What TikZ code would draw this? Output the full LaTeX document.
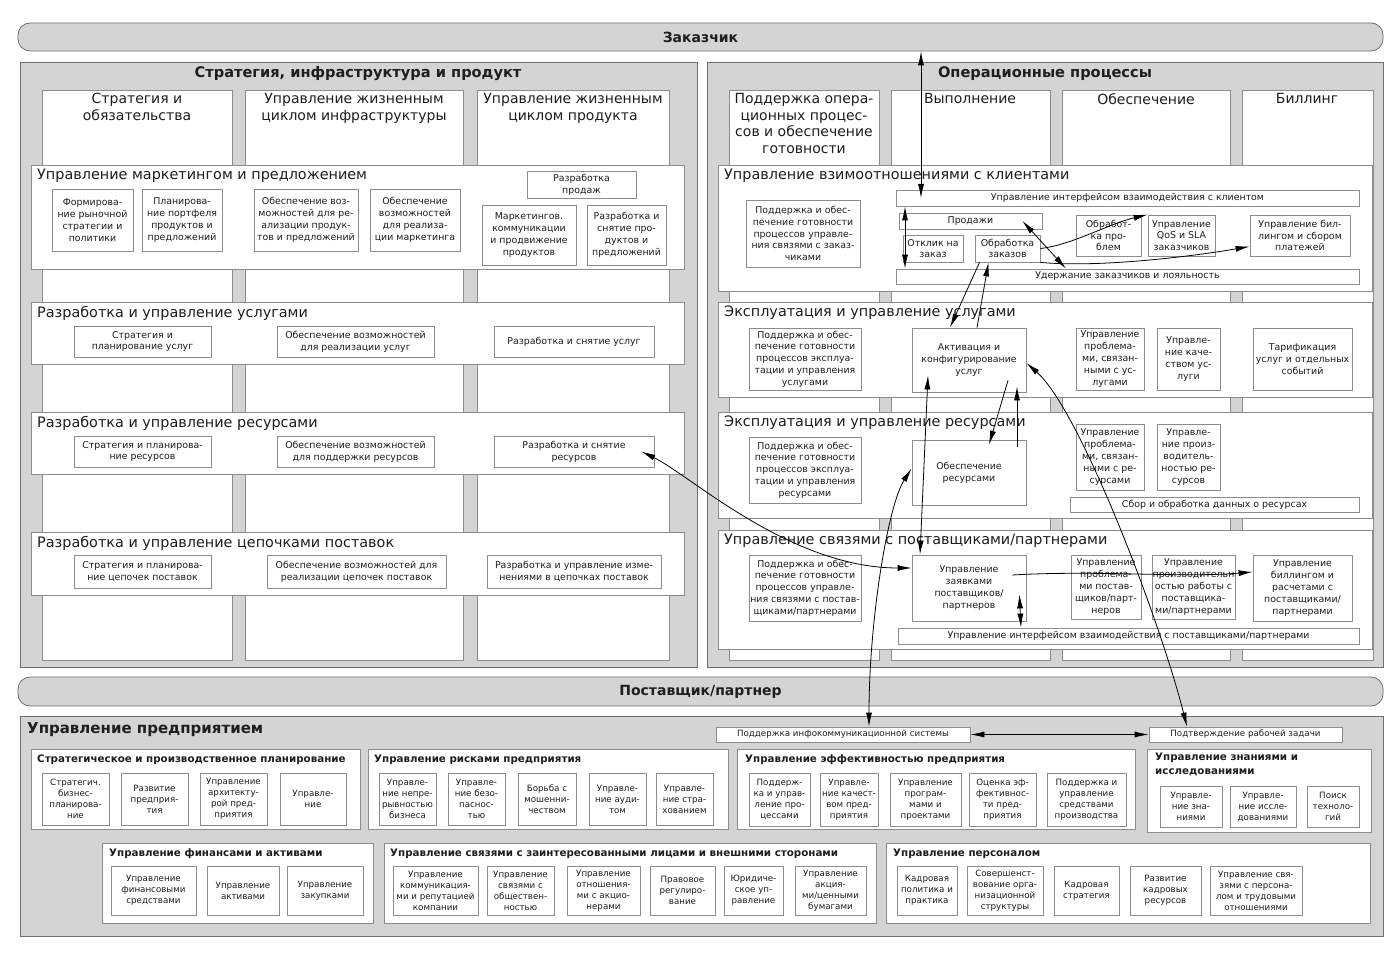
\documentclass[tikz,border=0pt]{standalone}
\usepackage{fontspec}
\setmainfont{DejaVu Sans}
\usetikzlibrary{arrows.meta}
\definecolor{pnl}{RGB}{212,212,212}
\definecolor{pnlln}{RGB}{110,110,110}
\definecolor{bxln}{RGB}{140,140,140}
\definecolor{txt}{RGB}{30,30,30}
% box from corner (x1,y1) to corner (x2,y2), y grows downwards
\newcommand{\bxat}[7][bx]{%
  \node[#1,minimum width={#5-#3},minimum height={#6-#4}] (#2) at ({(#3+#5)/2},{(#4+#6)/2}) {#7};}

\begin{document}
\begin{tikzpicture}[x=1pt,y=-1pt,
  pnl/.style={draw=pnlln,fill=pnl,line width=0.8pt,inner sep=0pt},
  bar/.style={pnl,rounded corners=12pt,text=txt,font=\fontsize{14}{16}\selectfont\bfseries},
  lane/.style={draw=bxln,fill=white,line width=0.8pt,inner sep=0pt},
  bx/.style={draw=bxln,fill=white,line width=0.8pt,inner sep=0.5pt,align=center,text=txt,font=\fontsize{9.4}{11.8}\selectfont},
  ebx/.style={bx,font=\fontsize{8.7}{11}\selectfont},
  ttl/.style={anchor=west,inner sep=0pt,text=txt,font=\fontsize{14.4}{16}\selectfont},
  ctl/.style={anchor=north,inner sep=0pt,align=center,text=txt,font=\fontsize{14}{16.7}\selectfont},
  hd/.style={inner sep=0pt,text=txt,font=\fontsize{14.6}{16}\selectfont\bfseries},
  gtl/.style={anchor=west,inner sep=0pt,align=left,text=txt,font=\fontsize{10.3}{13.5}\selectfont\bfseries},
  arr/.style={-{Latex[length=14pt,width=6pt]},line width=0.8pt},
  dbl/.style={{Latex[length=14pt,width=6pt]}-{Latex[length=14pt,width=6pt]},line width=0.8pt}]
\fill[white] (0,0) rectangle (1400,957);
\useasboundingbox (0,0) rectangle (1400,957);

% customer and supplier bars
\bxat[bar]{zak}{18}{23}{1383}{51}{Заказчик}
\bxat[bar]{post}{18}{677}{1383}{706}{Поставщик/партнер}

% strategy, infrastructure and product
\bxat[pnl]{sip}{20}{62}{697}{667}{}
\node[hd] (sipt) at (358,74) {Стратегия, инфраструктура и продукт};
\bxat[lane]{lc1}{42}{90}{232}{660}{}
\bxat[lane]{lc2}{245}{90}{463}{660}{}
\bxat[lane]{lc3}{477}{90}{669}{660}{}
\node[ctl] (lc1t) at (137,93) {Стратегия и\\обязательства};
\node[ctl] (lc2t) at (354,93) {Управление жизненным\\циклом инфраструктуры};
\node[ctl] (lc3t) at (573,93) {Управление жизненным\\циклом продукта};

\bxat[lane]{lr1}{31}{165}{684}{269}{}
\node[ttl] (lr1t) at (37,176) {Управление маркетингом и предложением};
\bxat{m1}{52}{189}{133}{251}{Формирова-\\ние рыночной\\стратегии и\\политики}
\bxat{m2}{142}{189}{222}{251}{Планирова-\\ние портфеля\\продуктов и\\предложений}
\bxat{m3}{254}{189}{358}{251}{Обеспечение воз-\\можностей для ре-\\ализации продук-\\тов и предложений}
\bxat{m4}{370}{189}{460}{251}{Обеспечение\\возможностей\\для реализа-\\ции маркетинга}
\bxat{m5}{527}{171}{636}{198}{Разработка\\продаж}
\bxat{m6}{482}{205}{576}{265}{Маркетингов.\\коммуникации\\и продвижение\\продуктов}
\bxat{m7}{587}{205}{666}{265}{Разработка и\\снятие про-\\дуктов и\\предложений}

\bxat[lane]{lr2}{31}{302}{684}{364}{}
\node[ttl] (lr2t) at (37,313) {Разработка и управление услугами};
\bxat{u1}{74}{326}{211}{357}{Стратегия и\\планирование услуг}
\bxat{u2}{277}{326}{434}{357}{Обеспечение возможностей\\для реализации услуг}
\bxat{u3}{494}{326}{654}{357}{Разработка и снятие услуг}

\bxat[lane]{lr3}{31}{412}{684}{474}{}
\node[ttl] (lr3t) at (37,423) {Разработка и управление ресурсами};
\bxat{r1}{74}{436}{211}{467}{Стратегия и планирова-\\ние ресурсов}
\bxat{r2}{277}{436}{434}{467}{Обеспечение возможностей\\для поддержки ресурсов}
\bxat{r3}{494}{436}{654}{467}{Разработка и снятие\\ресурсов}

\bxat[lane]{lr4}{31}{532}{684}{595}{}
\node[ttl] (lr4t) at (37,543) {Разработка и управление цепочками поставок};
\bxat{c1}{74}{555}{211}{588}{Стратегия и планирова-\\ние цепочек поставок}
\bxat{c2}{267}{555}{446}{588}{Обеспечение возможностей для\\реализации цепочек поставок}
\bxat{c3}{487}{555}{661}{588}{Разработка и управление изме-\\нениями в цепочках поставок}

% operations
\bxat[pnl]{op}{707}{62}{1383}{667}{}
\node[hd] (opt) at (1045,74) {Операционные процессы};
\bxat[lane]{rc1}{729}{90}{879}{660}{}
\bxat[lane]{rc2}{891}{90}{1050}{660}{}
\bxat[lane]{rc3}{1062}{90}{1230}{660}{}
\bxat[lane]{rc4}{1242}{90}{1373}{660}{}
\node[ctl] (rc1t) at (804,93) {Поддержка опера-\\ционных процес-\\сов и обеспечение\\готовности};
\node[ctl] (rc2t) at (970,93) {Выполнение};
\node[ctl] (rc3t) at (1146,93) {Обеспечение};
\node[ctl] (rc4t) at (1307,93) {Биллинг};

\bxat[lane]{rr1}{718}{165}{1372}{291}{}
\node[ttl] (rr1t) at (724,176) {Управление взимоотношениями с клиентами};
\bxat{k1}{746}{200}{860}{267}{Поддержка и обес-\\печение готовности\\процессов управле-\\ния связями с заказ-\\чиками}
\bxat{kif}{896}{190}{1359}{206}{Управление интерфейсом взаимодействия с клиентом}
\bxat{kpr}{899}{213}{1042}{229}{Продажи}
\bxat{kot}{903}{235}{963}{262}{Отклик на\\заказ}
\bxat{kob}{975}{235}{1040}{262}{Обработка\\заказов}
\bxat{kpb}{1076}{215}{1141}{256}{Обработ-\\ка про-\\блем}
\bxat{kqs}{1148}{215}{1215}{256}{Управление\\QoS и SLA\\заказчиков}
\bxat{kbl}{1250}{215}{1350}{256}{Управление бил-\\лингом и сбором\\платежей}
\bxat{kud}{896}{269}{1359}{284}{Удержание заказчиков и лояльность}

\bxat[lane]{rr2}{718}{302}{1372}{397}{}
\node[ttl] (rr2t) at (724,313) {Эксплуатация и управление услугами};
\bxat{s1}{749}{328}{861}{390}{Поддержка и обес-\\печение готовности\\процессов эксплуа-\\тации и управления\\услугами}
\bxat{sac}{912}{328}{1026}{392}{Активация и\\конфигурирование\\услуг}
\bxat{s3}{1076}{328}{1144}{390}{Управление\\проблема-\\ми, связан-\\ными с ус-\\лугами}
\bxat{s4}{1157}{328}{1220}{390}{Управле-\\ние каче-\\ством ус-\\луги}
\bxat{s5}{1253}{328}{1352}{390}{Тарификация\\услуг и отдельных\\событий}

\bxat[lane]{rr3}{718}{412}{1372}{518}{}
\node[ttl] (rr3t) at (724,423) {Эксплуатация и управление ресурсами};
\bxat{e1}{749}{437}{861}{503}{Поддержка и обес-\\печение готовности\\процессов эксплуа-\\тации и управления\\ресурсами}
\bxat{eob}{912}{440}{1026}{505}{Обеспечение\\ресурсами}
\bxat{e3}{1076}{424}{1144}{490}{Управление\\проблема-\\ми, связан-\\ными с ре-\\сурсами}
\bxat{e4}{1157}{424}{1220}{490}{Управле-\\ние произ-\\водитель-\\ностью ре-\\сурсов}
\bxat{esb}{1070}{497}{1359}{512}{Сбор и обработка данных о ресурсах}

\bxat[lane]{rr4}{718}{530}{1372}{649}{}
\node[ttl] (rr4t) at (724,541) {Управление связями с поставщиками/партнерами};
\bxat{p1}{749}{555}{861}{621}{Поддержка и обес-\\печение готовности\\процессов управле-\\ния связями с постав-\\щиками/партнерами}
\bxat{pzv}{912}{555}{1026}{621}{Управление\\заявками\\поставщиков/\\партнеров}
\bxat{p3}{1071}{555}{1141}{619}{Управление\\проблема-\\ми постав-\\щиков/парт-\\неров}
\bxat{p4}{1152}{555}{1235}{619}{Управление\\производительн\\остью работы с\\поставщика-\\ми/партнерами}
\bxat{pbl}{1253}{555}{1352}{621}{Управление\\биллингом и\\расчетами с\\поставщиками/\\партнерами}
\bxat{pif}{898}{628}{1359}{644}{Управление интерфейсом взаимодействия с поставщиками/партнерами}

% enterprise management
\bxat[pnl]{ent}{20}{716}{1383}{936}{}
\node[hd,anchor=west,font=\fontsize{15}{17}\selectfont\bfseries] (entt) at (27,730) {Управление предприятием};
\bxat[ebx]{eis}{716}{727}{970}{742}{Поддержка инфокоммуникационной системы}
\bxat[ebx]{ept}{1149}{727}{1342}{742}{Подтверждение рабочей задачи}

\bxat[lane]{g1}{31}{749}{360}{829}{}
\node[gtl] (g1t) at (37,760) {Стратегическое и производственное планирование};
\bxat[ebx]{g1a}{42}{773}{109}{825}{Стратегич.\\бизнес-\\планирова-\\ние}
\bxat[ebx]{g1b}{121}{773}{188}{825}{Развитие\\предприя-\\тия}
\bxat[ebx]{g1c}{200}{773}{267}{825}{Управление\\архитекту-\\рой пред-\\приятия}
\bxat[ebx]{g1d}{280}{773}{346}{825}{Управле-\\ние}

\bxat[lane]{g2}{368}{749}{728}{829}{}
\node[gtl] (g2t) at (374,760) {Управление рисками предприятия};
\bxat[ebx]{g2a}{379}{773}{436}{825}{Управле-\\ние непре-\\рывностью\\бизнеса}
\bxat[ebx]{g2b}{448}{773}{505}{825}{Управле-\\ние безо-\\паснос-\\тью}
\bxat[ebx]{g2c}{518}{773}{576}{825}{Борьба с\\мошенни-\\чеством}
\bxat[ebx]{g2d}{589}{773}{646}{825}{Управле-\\ние ауди-\\том}
\bxat[ebx]{g2e}{656}{773}{713}{825}{Управле-\\ние стра-\\хованием}

\bxat[lane]{g3}{737}{749}{1135}{829}{}
\node[gtl] (g3t) at (745,760) {Управление эффективностью предприятия};
\bxat[ebx]{g3a}{749}{773}{810}{826}{Поддерж-\\ка и управ-\\ление про-\\цессами}
\bxat[ebx]{g3b}{820}{773}{878}{826}{Управле-\\ние качест-\\вом пред-\\приятия}
\bxat[ebx]{g3c}{890}{773}{961}{826}{Управление\\програм-\\мами и\\проектами}
\bxat[ebx]{g3d}{969}{773}{1036}{826}{Оценка эф-\\фективнос-\\ти пред-\\приятия}
\bxat[ebx]{g3e}{1047}{773}{1126}{826}{Поддержка и\\управление\\средствами\\производства}

\bxat[lane]{g4}{1147}{749}{1371}{832}{}
\node[gtl,anchor=north west] (g4t) at (1155,753) {Управление знаниями и\\исследованиями};
\bxat[ebx]{g4a}{1160}{786}{1222}{827}{Управле-\\ние зна-\\ниями}
\bxat[ebx]{g4b}{1230}{786}{1296}{827}{Управле-\\ние иссле-\\дованиями}
\bxat[ebx]{g4c}{1307}{786}{1359}{827}{Поиск\\техноло-\\гий}

\bxat[lane]{g5}{102}{843}{373}{923}{}
\node[gtl] (g5t) at (109,854) {Управление финансами и активами};
\bxat[ebx]{g5a}{111}{866}{196}{915}{Управление\\финансовыми\\средствами}
\bxat[ebx]{g5b}{207}{866}{279}{915}{Управление\\активами}
\bxat[ebx]{g5c}{287}{866}{363}{915}{Управление\\закупками}

\bxat[lane]{g6}{384}{843}{876}{923}{}
\node[gtl] (g6t) at (390,854) {Управление связями с заинтересованными лицами и внешними сторонами};
\bxat[ebx]{g6a}{393}{866}{478}{915}{Управление\\коммуникация-\\ми и репутацией\\компании}
\bxat[ebx]{g6b}{487}{866}{554}{915}{Управление\\связями с\\обществен-\\ностью}
\bxat[ebx]{g6c}{567}{866}{640}{915}{Управление\\отношения-\\ми с акцио-\\нерами}
\bxat[ebx]{g6d}{650}{866}{715}{915}{Правовое\\регулиро-\\вание}
\bxat[ebx]{g6e}{724}{866}{783}{915}{Юридиче-\\ское уп-\\равление}
\bxat[ebx]{g6f}{795}{866}{866}{915}{Управление\\акция-\\ми/ценными\\бумагами}

\bxat[lane]{g7}{886}{843}{1370}{923}{}
\node[gtl] (g7t) at (893,854) {Управление персоналом};
\bxat[ebx]{g7a}{897}{866}{957}{915}{Кадровая\\политика и\\практика}
\bxat[ebx]{g7b}{967}{866}{1043}{915}{Совершенст-\\вование орга-\\низационной\\структуры}
\bxat[ebx]{g7c}{1054}{866}{1119}{915}{Кадровая\\стратегия}
\bxat[ebx]{g7d}{1130}{866}{1201}{915}{Развитие\\кадровых\\ресурсов}
\bxat[ebx]{g7e}{1210}{866}{1302}{915}{Управление свя-\\зями с персона-\\лом и трудовыми\\отношениями}

% flows
\draw[dbl] (zak.south -| 921,0) -- (kif.center -| 921,0);
\draw[dbl] (kif.south -| 905,0) -- (kud.north -| 905,0);
\draw[arr] (kob.east) .. controls (1072,245) and (1108,224) .. (kqs.north west);
\draw[arr] (kob.south east) .. controls (1100,268) and (1195,256) .. ([yshift=-11pt]kbl.west);
\draw[dbl] ([xshift=-20pt]kpr.east) -- (kud.north -| 1066,0);
\draw[arr] ([xshift=-28pt]kob.south) -- ([xshift=-19pt]sac.north);
\draw[arr] ([xshift=8pt]sac.north) -- ([xshift=-19pt]kob.south);
\draw[arr] ([xshift=39pt,yshift=12pt]sac.south) -- ([xshift=20pt,yshift=-5pt]eob.north);
\draw[arr] ([xshift=48pt,yshift=-7pt]eob.north) -- ([xshift=48pt,yshift=6pt]sac.south);
\draw[dbl] ([xshift=-41pt,yshift=17pt]sac.south) -- ([xshift=-49pt]pzv.north);
\draw[dbl] (eis.north -| 869,0) .. controls (869,620) and (888,505) .. ([yshift=4pt]eob.west);
\draw[dbl] ([xshift=-13pt]r3.east) .. controls (690,475) and (790,568) .. ([yshift=20pt]pzv.west);
\draw[dbl] ([xshift=-7pt,yshift=27pt]pzv.south east) -- (pif.north -| 1021,0);
\draw[arr] ([xshift=-14pt,yshift=13pt]pzv.east) .. controls (1100,570) and (1180,578) .. ([yshift=16pt]pbl.west);
\draw[dbl] ([yshift=-3pt]sac.east) .. controls (1080,410) and (1160,620) .. (ept.north -| 1187,0);
\draw[dbl] (eis.east) -- (ept.west);
\end{tikzpicture}
\end{document}
